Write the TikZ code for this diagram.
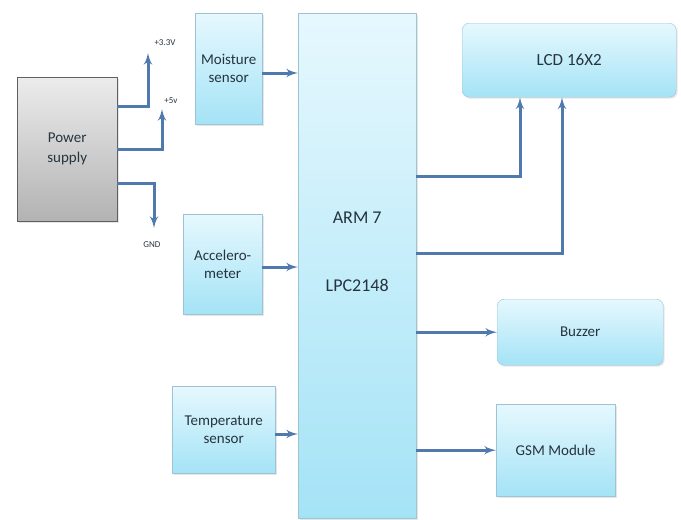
\documentclass[tikz,border=0pt]{standalone}
\usepackage{fontspec}
\setmainfont{Carlito}
\usetikzlibrary{arrows,positioning,shadows}
\definecolor{boxtop}{HTML}{E6F8FE}
\definecolor{boxbot}{HTML}{A4E3F6}
\definecolor{boxline}{HTML}{9DC4D4}
\definecolor{linkblue}{HTML}{5079AD}
\definecolor{txt}{HTML}{26343E}

\begin{document}
\begin{tikzpicture}
[x=1pt,y=-1pt,>=latex',
block/.style={draw=boxline, top color=boxtop, bottom color=boxbot, align=center,
  inner sep=0pt, anchor=north west, text=txt, font=\fontsize{15}{18}\selectfont,
  drop shadow={opacity=0.2, shadow xshift=1.5pt, shadow yshift=-1.5pt}},
roundblock/.style={block, rounded corners=7pt},
psu/.style={block, draw=gray!75!black, top color=gray!15, bottom color=gray!60,
  font=\fontsize{15}{20}\selectfont},
volt/.style={font=\fontsize{9}{10}\selectfont, text=txt, inner sep=0pt},
link/.style={->, draw=linkblue, line width=3pt}]
\useasboundingbox (0,0) rectangle (681,520);

\node[psu, minimum width=100pt, minimum height=144pt] at (17,77) (ps) {Power\\supply};

\node[block, minimum width=67pt, minimum height=111pt] at (195,13) (moist) {Moisture\\sensor};
\node[block, minimum width=79pt, minimum height=100pt] at (183,214) (accel) {Accelero-\\meter};
\node[block, minimum width=103pt, minimum height=87pt] at (172,386) (temp) {Temperature\\sensor};

\node[block, minimum width=118pt, minimum height=505pt, font=\fontsize{18}{22}\selectfont] at (298,13) (arm) {ARM 7\\[46pt]LPC2148\\[6pt]~};

\node[roundblock, minimum width=214pt, minimum height=74pt, font=\fontsize{17}{20}\selectfont] at (462,23) (lcd) {LCD 16X2};
\node[roundblock, minimum width=166pt, minimum height=66pt] at (497,299) (buzz) {Buzzer};
\node[block, minimum width=119pt, minimum height=92pt] at (496,404) (gsm) {GSM Module};

% supply rails
\coordinate (v33s) at (117,106);
\coordinate (v33) at (148,53);
\coordinate (v5s) at (117,149);
\coordinate (v5) at (162,109);
\coordinate (gnds) at (117,183);
\coordinate (gnd) at (154,228);
\draw[link] (v33s) -| (v33);
\draw[link] (v5s) -| (v5);
\draw[link] (gnds) -| (gnd);
\node[volt] at (165,43) (lv33) {+3.3V};
\node[volt] at (171,101) (lv5) {+5v};
\node[volt] at (152,245) (lgnd) {GND};

% sensors into the controller
\draw[link] (moist.east |- 0,73) -- (arm.west |- 0,73);
\draw[link] (accel.east |- 0,267) -- (arm.west |- 0,267);
\draw[link] (temp.east |- 0,434) -- (arm.west |- 0,434);

% outputs
\coordinate (lcd1) at (520,176);
\coordinate (lcd2) at (562,253);
\draw[link] (arm.east |- lcd1) -| (lcd.south -| lcd1);
\draw[link] (arm.east |- lcd2) -| (lcd.south -| lcd2);
\draw[link] (arm.east |- buzz) -- (buzz.west);
\draw[link] (arm.east |- gsm) -- (gsm.west);
\end{tikzpicture}
\end{document}
